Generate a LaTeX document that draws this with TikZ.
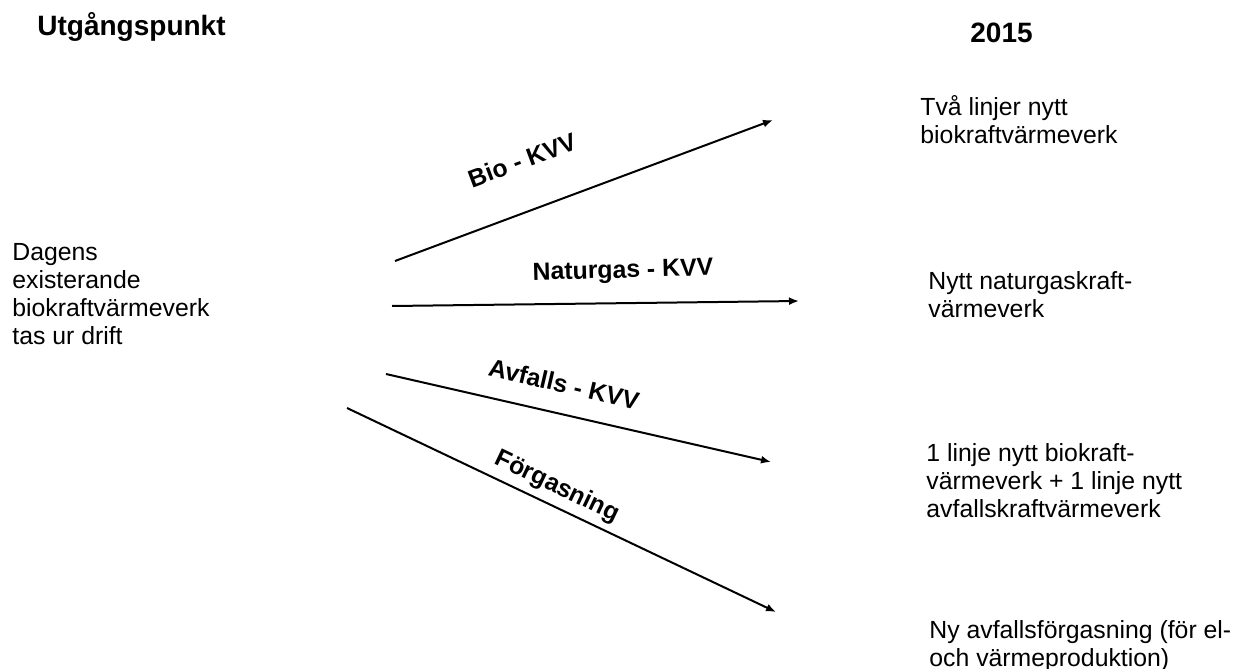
\documentclass[tikz,border=0pt]{standalone}
\usepackage{fontspec}
\setmainfont{Liberation Sans}
\usetikzlibrary{arrows.meta}

\tikzset{
  rubrik/.style={font=\fontsize{14}{16}\selectfont\bfseries, inner sep=0pt, anchor=base west},
  ruta/.style={font=\fontsize{12.4}{14}\selectfont, align=left, inner sep=0pt, anchor=north west},
  etikett/.style={font=\fontsize{12.4}{14}\selectfont\bfseries, inner sep=0pt},
  pil/.style={line width=1pt, -{Latex[length=5pt,width=4pt]}}
}

\begin{document}
\begin{tikzpicture}[x=0.5pt, y=-0.5pt]
					\useasboundingbox (0,0) rectangle (1234,668);
					
					% Rubriker
					\node[rubrik] (start) at (37,36) {Utgångspunkt};
					\node[rubrik] (aar) at (970,43) {2015};
					
					% Utgångsläge
					\node[ruta] (idag) at (12,243) {Dagens\\existerande\\biokraftvärmeverk\\tas ur drift};
					
					% Alternativ år 2015
					\node[ruta] (tva) at (920,95) {Två linjer nytt\\biokraftvärmeverk};
					\node[ruta] (ngas) at (928,271) {Nytt naturgaskraft-\\värmeverk};
					\node[ruta] (avf) at (926,443) {1 linje nytt biokraft-\\värmeverk + 1 linje nytt\\avfallskraftvärmeverk};
					\node[ruta] (forg) at (929,620) {Ny avfallsförgasning (för el-\\och värmeproduktion)};
					
					% Pilarnas ändpunkter
					\coordinate (b1) at (395,261);
					\coordinate (b2) at (773,120);
					\coordinate (n1) at (392,306);
					\coordinate (n2) at (799,301);
					\coordinate (a1) at (386,374);
					\coordinate (a2) at (771,462);
					\coordinate (f1) at (347,408);
					\coordinate (f2) at (776,612);
					
					% Pilar
					\draw[pil] (b1) -- (b2);
					\draw[pil] (n1) -- (n2);
					\draw[pil] (a1) -- (a2);
					\draw[pil] (f1) -- (f2);
					
					% Etiketter på pilarna
					\node[etikett, rotate=20.5] (lbio) at (522,160) {Bio - KVV};
					\node[etikett, rotate=1.5] (lngas) at (623,272) {Naturgas - KVV};
					\node[etikett, rotate=-13] (lavf) at (564,384) {Avfalls - KVV};
					\node[etikett, rotate=-25.5] (lforg) at (557,487) {Förgasning};
				\end{tikzpicture}
\end{document}
